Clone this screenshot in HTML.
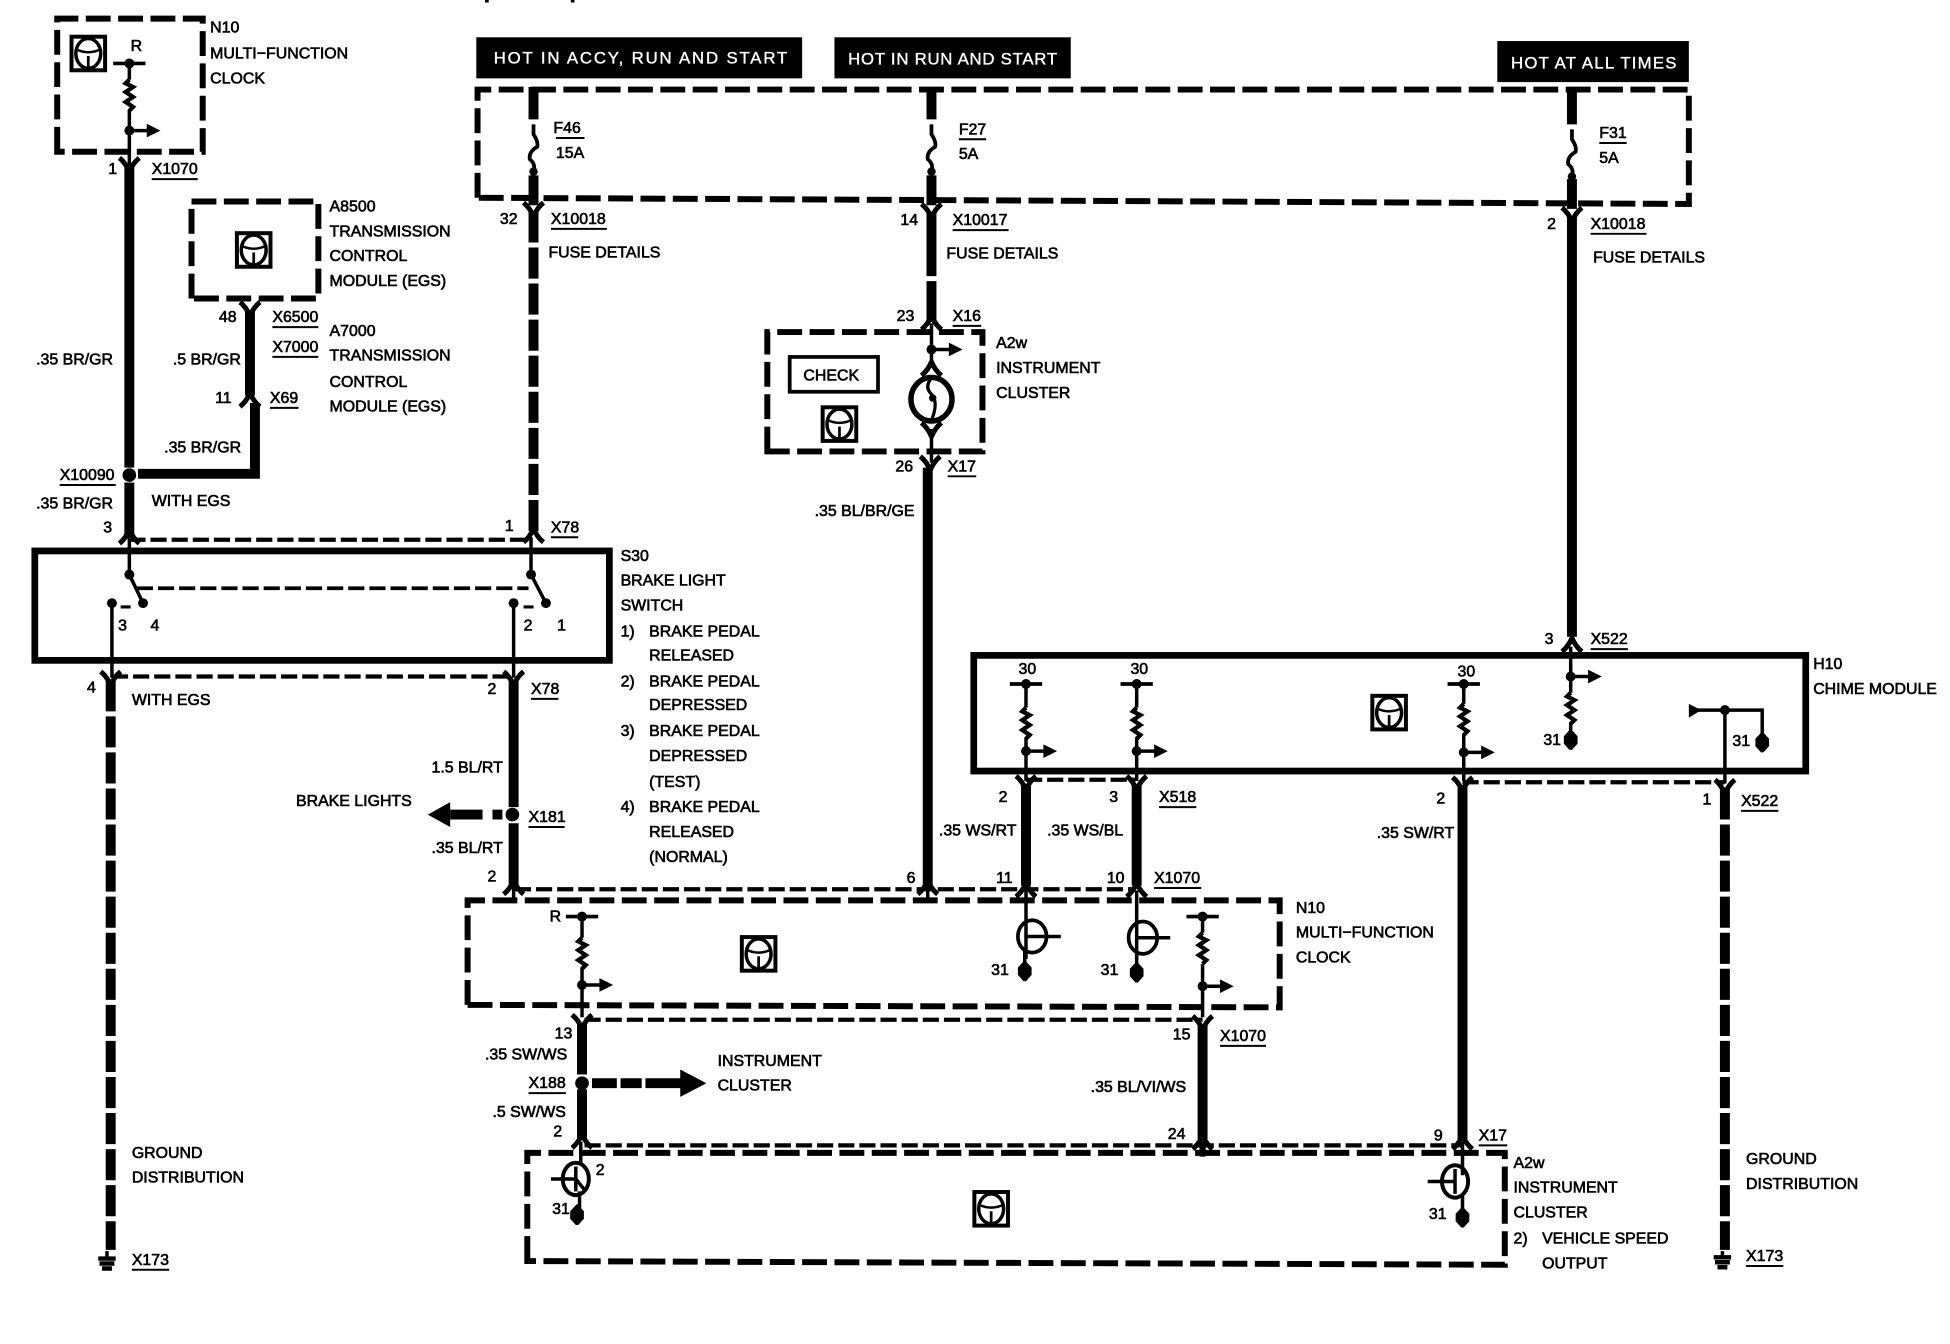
<!DOCTYPE html>
<html><head><meta charset="utf-8"><style>
html,body{margin:0;padding:0;background:#fff}
svg{display:block}
text{font-family:"Liberation Sans",sans-serif;font-size:12.8px;fill:#000;stroke:#000;stroke-width:.5}
.w{fill:#fff;stroke:#fff;font-size:13.5px;stroke-width:.3}
.t{stroke:#000;stroke-width:8;fill:none}
.d{stroke:#000;stroke-width:8;fill:none;stroke-dasharray:25 4}
.f{stroke:#000;stroke-width:2.8;fill:none}
.b{stroke:#000;stroke-width:4.8;fill:none;stroke-dasharray:20 6}
.s{stroke:#000;stroke-width:3.4;fill:none;stroke-dasharray:13 4}
.u{stroke:#000;stroke-width:1.6}
.k{stroke:#000;stroke-width:5.4;fill:none}
</style></head><body>
<svg width="1950" height="1344" viewBox="0 0 1568 1080.7" xmlns="http://www.w3.org/2000/svg">
<defs>
<g id="ic"><rect x="-13.5" y="-13.5" width="27" height="27" fill="#fff" stroke="#000" stroke-width="3.2"/><ellipse cx="0" cy="0" rx="10" ry="12" fill="none" stroke="#000" stroke-width="2.8"/><path d="M-9,-3Q0,1 9,-3" fill="none" stroke="#000" stroke-width="2"/><path d="M0,2V12" stroke="#000" stroke-width="2.2" fill="none"/></g>
<path id="vd" d="M-8,-5Q-3,-1 0,6Q3,-1 8,-5" fill="none" stroke="#000" stroke-width="4" stroke-linejoin="round"/>
<path id="vu" d="M-8,5Q-3,1 0,-6Q3,1 8,5" fill="none" stroke="#000" stroke-width="4" stroke-linejoin="round"/>
<path id="res" d="M0,0l-3,3l6,3l-6,4l6,4l-6,4l6,4l-3,3" fill="none" stroke="#000" stroke-width="3.4"/>
<g id="tap"><circle r="4" fill="#000"/><path d="M0,0H17" stroke="#000" stroke-width="2.8"/><path d="M14,-5.5L25,0L14,5.5Z" fill="#000"/></g>
<g id="gnd"><path d="M0,-9L5.5,-3L5.5,3L1,8H-1L-5.5,3L-5.5,-3Z" fill="#000"/></g>
<g id="fuse"><path d="M0,0V8Q4,14 3,18Q-4,22 -3,28Q2,32 0,38V42" fill="none" stroke="#000" stroke-width="3"/><circle cx="0" cy="38" r="3.4" fill="#000"/></g>
<g id="bar"><path d="M-13,0H13" stroke="#000" stroke-width="3"/><circle r="4" fill="#000"/></g>
</defs>
<rect width="1568" height="1081" fill="#fff"/>
<path d="M390,0h3v2h-3zM459,0h3v2h-3z" fill="#000"/>

<!-- header bars -->
<rect x="383" y="30" width="262" height="33"/><text class="w" x="397" y="51" textLength="236" lengthAdjust="spacing">HOT IN ACCY, RUN  AND  START</text>
<rect x="671" y="30" width="190" height="33"/><text class="w" x="682" y="52" textLength="168" lengthAdjust="spacing">HOT IN RUN AND START</text>
<rect x="1204" y="33" width="154" height="33"/><text class="w" x="1215" y="55" textLength="133" lengthAdjust="spacing">HOT AT ALL TIMES</text>

<!-- dashed boxes -->
<path class="b" d="M46,122V15H163V122Z"/>
<path class="b" d="M154,240V162H256V240Z"/>
<path class="b" d="M384,159V72H1358V164L384,159Z"/>
<path class="b" d="M617,363V267H790V363Z"/>
<path class="b" d="M376,808V724H1029V810Z"/>
<path class="b" d="M424,1014V927H1210V1017Z"/>
<rect x="28" y="443" width="462" height="88" class="k"/>
<rect x="783" y="527" width="669" height="93" class="k"/>

<!-- N10 top -->
<use href="#ic" x="71" y="43"/>
<text x="105" y="41">R</text>
<use href="#bar" x="104" y="51"/>
<path class="f" d="M104,51V64M104,88V135"/>
<use href="#res" x="104" y="64"/>
<use href="#tap" x="104" y="105"/>
<use href="#vd" x="104" y="132"/>
<path class="t" d="M104,134V376M104,388V432"/>
<circle cx="104" cy="382" r="5.5" fill="#000"/>
<path class="t" d="M111,381H205V324"/>

<use href="#ic" x="204" y="201"/>
<use href="#vd" x="201" y="248"/>
<path class="t" d="M201,250V318"/>
<use href="#vu" x="201" y="322"/>

<!-- fuse columns -->
<path class="t" d="M429,70V96M429,141V165"/><use href="#fuse" x="429" y="100"/>
<use href="#vd" x="429" y="168"/>
<path class="d" d="M429,170V428"/>
<use href="#vu" x="429" y="431"/>

<path class="t" d="M749,70V96M749,141V165"/><use href="#fuse" x="749" y="100"/>
<use href="#vd" x="749" y="169"/>
<path class="t" d="M749,171V222M749,226V258"/>
<use href="#vu" x="749" y="260"/>

<path class="t" d="M1264,72V100M1264,144V168"/><use href="#fuse" x="1264" y="104"/>
<use href="#vd" x="1264" y="172"/>
<path class="t" d="M1264,174V512"/>
<use href="#vu" x="1264" y="519"/>

<!-- A2w cluster -->
<path class="f" d="M749,260V290M749,345V372"/>
<use href="#tap" x="749" y="281"/>
<use href="#vu" x="749" y="297"/>
<ellipse cx="749" cy="321" rx="16.5" ry="17.5" fill="none" stroke="#000" stroke-width="4.4"/>
<path d="M749,304Q743,311 749,317Q755,323 749,338" fill="none" stroke="#000" stroke-width="2.6"/>
<circle cx="750" cy="320" r="3" fill="#000"/>
<use href="#vd" x="749" y="345"/>
<rect x="635" y="287" width="71" height="28" fill="none" stroke="#000" stroke-width="3"/>
<text x="646" y="306">CHECK</text>
<use href="#ic" x="675" y="341"/>
<use href="#vd" x="748" y="372"/>
<path class="t" d="M746,376V715"/>

<!-- S30 -->
<path class="s" d="M104,434H428"/>
<use href="#vu" x="104" y="432"/>
<path class="f" d="M104,432V462M104,462L115,485M427,432V462M427,462L439,485"/>
<circle cx="104" cy="462" r="4"/><circle cx="115" cy="485" r="4"/><circle cx="427" cy="462" r="4"/><circle cx="439" cy="485" r="4"/>
<circle cx="90" cy="485" r="4"/><circle cx="413" cy="485" r="4"/>
<path class="f" d="M90,485V545M413,485V545"/>
<path stroke="#000" stroke-width="3" stroke-dasharray="13 4" d="M110,473H425" fill="none"/>
<path stroke="#000" stroke-width="2.5" d="M97,488h8M421,488h8" fill="none"/>
<path class="s" d="M90,544H413"/>
<use href="#vd" x="89" y="545"/>
<use href="#vd" x="413" y="545"/>
<path class="d" d="M89,547V1005"/>
<path class="t" d="M413,548V649M413,662V712"/>
<circle cx="412" cy="655" r="5.5" fill="#000"/>
<path class="t" d="M404,655H396M388,655H362"/>
<path d="M344,655L362,645V665Z" fill="#000"/>
<path class="f" d="M86,1006V1012"/>
<path d="M79,1012H93M80,1016H92M82,1020H90" stroke="#000" stroke-width="3.6"/>

<!-- H10 interior -->
<use href="#bar" x="825" y="550"/><path class="f" d="M825,550V569M825,593V628"/><use href="#res" x="825" y="569"/><use href="#tap" x="825" y="604"/>
<use href="#bar" x="914" y="550"/><path class="f" d="M914,550V569M914,593V628"/><use href="#res" x="914" y="569"/><use href="#tap" x="914" y="604"/>
<use href="#bar" x="1177" y="550"/><path class="f" d="M1177,550V566M1177,590V628"/><use href="#res" x="1177" y="566"/><use href="#tap" x="1177" y="605"/>
<path class="f" d="M1263,520V557M1263,581V590"/><use href="#tap" x="1263" y="544"/><use href="#res" x="1263" y="557"/><use href="#gnd" x="1263" y="595"/>
<path d="M1358,566L1368,571L1358,577Z" fill="#000"/>
<path class="f" d="M1362,571H1417V590M1387,571V630"/><circle cx="1387" cy="571" r="4"/><use href="#gnd" x="1417" y="597"/>
<use href="#ic" x="1117" y="573"/>

<path class="s" d="M825,627H913"/>
<use href="#vd" x="825" y="629"/><use href="#vd" x="914" y="629"/>
<path class="t" d="M825,631V712M914,631V712"/>
<path class="s" d="M1176,629H1387"/>
<use href="#vd" x="1176" y="630"/><use href="#vd" x="1387" y="632"/>
<path class="t" d="M1176,633V916"/>
<path class="d" d="M1387,634V1005"/>
<path class="f" d="M1385,1006V1011"/>
<path d="M1378,1011H1392M1379,1015H1391M1381,1019H1389" stroke="#000" stroke-width="3.6"/>

<!-- row above lower N10 -->
<path class="s" d="M414,715H913"/>
<use href="#vu" x="413" y="714"/><use href="#vu" x="746" y="714"/><use href="#vu" x="825" y="716"/><use href="#vu" x="914" y="716"/>
<path class="f" d="M413,712V726M746,712V725"/>

<!-- lower N10 interior -->
<use href="#bar" x="468" y="737"/><path class="f" d="M468,737V754M468,778V818"/><use href="#res" x="468" y="754"/><use href="#tap" x="468" y="792"/>
<use href="#bar" x="967" y="737"/><path class="f" d="M967,737V750M967,775V818"/><use href="#res" x="967" y="750"/><use href="#tap" x="967" y="793"/>
<use href="#ic" x="610" y="767"/>
<path class="f" d="M825,716V771"/><ellipse cx="830" cy="753" rx="11.5" ry="13" fill="none" stroke="#000" stroke-width="3"/><path class="f" d="M825,753H853"/>
<use href="#gnd" x="824" y="781"/><path class="f" d="M824,765V775"/>
<path class="f" d="M914,716V771"/><ellipse cx="919" cy="754" rx="11.5" ry="13" fill="none" stroke="#000" stroke-width="3"/><path class="f" d="M914,754H941"/>
<use href="#gnd" x="914" y="782"/><path class="f" d="M914,765V775"/>

<!-- lower wires -->
<path class="s" d="M470,820H967"/>
<use href="#vd" x="468" y="821"/><use href="#vd" x="967" y="822"/>
<path class="t" d="M468,823V864M468,876V916M967,824V916"/>
<circle cx="468" cy="871" r="5.5" fill="#000"/>
<path class="t" d="M476,871H496M499,871H516M519,871H548"/>
<path d="M547,860L568,871L547,882Z" fill="#000"/>
<path class="s" d="M470,921H1176"/>
<use href="#vu" x="468" y="918"/><use href="#vu" x="967" y="919"/><use href="#vu" x="1176" y="919"/>
<path class="f" d="M467,918V936M1176,918V945"/>
<path stroke="#000" stroke-width="5" d="M967,918V930" fill="none"/>

<!-- lower transistors -->
<ellipse cx="463" cy="948" rx="10.5" ry="13" fill="none" stroke="#000" stroke-width="3.2"/><path class="f" d="M443,948H463M463,938V958M463,948L471,958M466,958V972"/>
<use href="#gnd" x="464" y="977"/>
<ellipse cx="1170" cy="950" rx="10.5" ry="13" fill="none" stroke="#000" stroke-width="3.2"/><path class="f" d="M1148,950H1170M1170,940V960M1176,960V972"/>
<use href="#gnd" x="1176" y="979"/>
<use href="#ic" x="797" y="972"/>

<!-- labels -->
<text x="169" y="26">N10</text><text x="169" y="47">MULTI−FUNCTION</text><text x="169" y="67">CLOCK</text>
<text x="265" y="170">A8500</text><text x="265" y="190">TRANSMISSION</text><text x="265" y="210">CONTROL</text><text x="265" y="230">MODULE (EGS)</text>
<text x="265" y="270">A7000</text><text x="265" y="290">TRANSMISSION</text><text x="265" y="311">CONTROL</text><text x="265" y="331">MODULE (EGS)</text>
<text x="87" y="140">1</text><text x="122" y="140">X1070</text><path class="u" d="M122,144H159"/>
<text x="29" y="293">.35 BR/GR</text><text x="139" y="293">.5 BR/GR</text>
<text x="176" y="259">48</text><text x="219" y="259">X6500</text><path class="u" d="M219,263H256"/>
<text x="219" y="283">X7000</text><path class="u" d="M219,287H256"/>
<text x="173" y="324">11</text><text x="217" y="324">X69</text><path class="u" d="M217,328H240"/>
<text x="132" y="364">.35 BR/GR</text>
<text x="48" y="386">X10090</text><path class="u" d="M48,390H93"/>
<text x="29" y="409">.35 BR/GR</text><text x="122" y="407">WITH EGS</text>
<text x="83" y="428">3</text><text x="406" y="427">1</text><text x="443" y="428">X78</text><path class="u" d="M443,432H465"/>
<text x="445" y="107">F46</text><path class="u" d="M447,111H470"/><text x="447" y="127">15A</text>
<text x="402" y="180">32</text><text x="443" y="180">X10018</text><path class="u" d="M443,184H488"/><text x="441" y="207">FUSE DETAILS</text>
<text x="771" y="108">F27</text><path class="u" d="M771,112H793"/><text x="771" y="128">5A</text>
<text x="724" y="181">14</text><text x="766" y="181">X10017</text><path class="u" d="M766,185H811"/><text x="761" y="208">FUSE DETAILS</text>
<text x="1286" y="111">F31</text><path class="u" d="M1286,115H1308"/><text x="1286" y="131">5A</text>
<text x="1244" y="184">2</text><text x="1279" y="184">X10018</text><path class="u" d="M1279,188H1324"/><text x="1281" y="211">FUSE DETAILS</text>
<text x="721" y="258">23</text><text x="766" y="258">X16</text><path class="u" d="M766,262H789"/>
<text x="801" y="280">A2w</text><text x="801" y="300">INSTRUMENT</text><text x="801" y="320">CLUSTER</text>
<text x="720" y="379">26</text><text x="762" y="379">X17</text><path class="u" d="M762,383H785"/>
<text x="655" y="415">.35 BL/BR/GE</text>

<text x="95" y="507">3</text><text x="121" y="507">4</text><text x="421" y="507">2</text><text x="448" y="507">1</text>
<text x="499" y="451">S30</text><text x="499" y="471">BRAKE LIGHT</text><text x="499" y="491">SWITCH</text>
<text x="499" y="512">1)</text><text x="522" y="512">BRAKE PEDAL</text><text x="522" y="531">RELEASED</text>
<text x="499" y="552">2)</text><text x="522" y="552">BRAKE PEDAL</text><text x="522" y="571">DEPRESSED</text>
<text x="499" y="592">3)</text><text x="522" y="592">BRAKE PEDAL</text><text x="522" y="612">DEPRESSED</text><text x="522" y="633">(TEST)</text>
<text x="499" y="653">4)</text><text x="522" y="653">BRAKE PEDAL</text><text x="522" y="673">RELEASED</text><text x="522" y="693">(NORMAL)</text>

<text x="70" y="557">4</text><text x="106" y="567">WITH EGS</text>
<text x="392" y="558">2</text><text x="427" y="558">X78</text><path class="u" d="M427,562H449"/>
<text x="347" y="621">1.5 BL/RT</text><text x="238" y="648">BRAKE LIGHTS</text>
<text x="425" y="661">X181</text><path class="u" d="M425,665H454"/>
<text x="347" y="686">.35 BL/RT</text><text x="392" y="709">2</text>

<text x="819" y="542">30</text><text x="909" y="542">30</text><text x="1172" y="544">30</text>
<text x="1242" y="518">3</text><text x="1279" y="518">X522</text><path class="u" d="M1279,522H1309"/>
<text x="1458" y="538">H10</text><text x="1458" y="558">CHIME MODULE</text>
<text x="1241" y="599">31</text><text x="1393" y="600">31</text>
<text x="803" y="645">2</text><text x="892" y="645">3</text><text x="932" y="645">X518</text><path class="u" d="M932,649H962"/>
<text x="755" y="672">.35 WS/RT</text><text x="842" y="672">.35 WS/BL</text>
<text x="1155" y="646">2</text><text x="1107" y="674">.35 SW/RT</text>
<text x="1369" y="647">1</text><text x="1400" y="648">X522</text><path class="u" d="M1400,652H1430"/>

<text x="729" y="710">6</text><text x="801" y="710">11</text><text x="890" y="710">10</text><text x="928" y="710">X1070</text><path class="u" d="M928,714H966"/>
<text x="442" y="741">R</text>
<text x="1042" y="734">N10</text><text x="1042" y="754">MULTI−FUNCTION</text><text x="1042" y="774">CLOCK</text>
<text x="797" y="784">31</text><text x="885" y="784">31</text>
<text x="446" y="835">13</text><text x="390" y="852">.35 SW/WS</text>
<text x="425" y="875">X188</text><path class="u" d="M425,879H455"/>
<text x="396" y="898">.5 SW/WS</text><text x="445" y="914">2</text>
<text x="577" y="857">INSTRUMENT</text><text x="577" y="877">CLUSTER</text>
<text x="943" y="836">15</text><text x="981" y="837">X1070</text><path class="u" d="M981,841H1018"/>
<text x="877" y="878">.35 BL/VI/WS</text><text x="939" y="916">24</text>
<text x="1153" y="917">9</text><text x="1189" y="917">X17</text><path class="u" d="M1189,921H1212"/>
<text x="479" y="945">2</text><text x="444" y="976">31</text><text x="1149" y="980">31</text>
<text x="1217" y="939">A2w</text><text x="1217" y="959">INSTRUMENT</text><text x="1217" y="979">CLUSTER</text>
<text x="1217" y="1000">2)</text><text x="1240" y="1000">VEHICLE SPEED</text><text x="1240" y="1020">OUTPUT</text>
<text x="106" y="931">GROUND</text><text x="106" y="951">DISTRIBUTION</text>
<text x="106" y="1017">X173</text><path class="u" d="M106,1021H136"/>
<text x="1404" y="936">GROUND</text><text x="1404" y="956">DISTRIBUTION</text>
<text x="1404" y="1014">X173</text><path class="u" d="M1404,1018H1434"/>
</svg>
</body></html>
